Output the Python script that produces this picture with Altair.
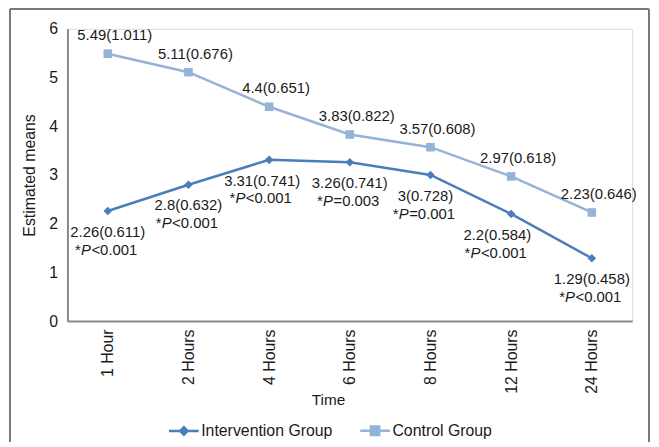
import altair as alt
import pandas as pd

# ---- data ----
times = ["1 Hour", "2 Hours", "4 Hours", "6 Hours", "8 Hours", "12 Hours", "24 Hours"]
intervention_mean = [2.26, 2.8, 3.31, 3.26, 3.0, 2.2, 1.29]
intervention_sd = [0.611, 0.632, 0.741, 0.741, 0.728, 0.584, 0.458]
control_mean = [5.49, 5.11, 4.4, 3.83, 3.57, 2.97, 2.23]
control_sd = [1.011, 0.676, 0.651, 0.822, 0.608, 0.618, 0.646]
p_sign = ["<", "<", "<", "=", "=", "<", "<"]
p_value = ["0.001", "0.001", "0.001", "0.003", "0.001", "0.001", "0.001"]
groups = ["Intervention Group", "Control Group"]
colors = ["#4a7ebb", "#95b3d7"]

FONT = "Liberation Sans"
TXT = "#1a1a1a"
AXC = "#898989"
LFS = 15  # data label font size


def fmt(v):
    return format(v, "g")


rows = []
for i, t in enumerate(times):
    rows.append(dict(time=t, group=groups[0], mean=intervention_mean[i],
                     label=f"{fmt(intervention_mean[i])}({fmt(intervention_sd[i])})",
                     prest=p_sign[i] + p_value[i]))
    rows.append(dict(time=t, group=groups[1], mean=control_mean[i],
                     label=f"{fmt(control_mean[i])}({fmt(control_sd[i])})",
                     prest=""))
df = pd.DataFrame(rows)

x = alt.X("time:N", sort=times, scale=alt.Scale(domain=times),
          axis=alt.Axis(title="Time", labelAngle=-90, labelFont=FONT, labelFontSize=16,
                        labelColor=TXT, labelPadding=8, ticks=False, domainColor=AXC,
                        domainWidth=2, titleFont=FONT, titleFontSize=15.5,
                        titleFontWeight="normal", titleColor=TXT, titleX=263, titleY=79,
                        titleBaseline="middle", titleAlign="center"))
y = alt.Y("mean:Q", scale=alt.Scale(domain=[0, 6], nice=False),
          axis=alt.Axis(title="Estimated means", values=[0, 1, 2, 3, 4, 5, 6], grid=False,
                        ticks=False, labelFont=FONT, labelFontSize=16, labelColor=TXT,
                        labelPadding=10, domainColor=AXC, domainWidth=2, titleFont=FONT,
                        titleFontSize=16, titleFontWeight="normal", titleColor=TXT,
                        titleX=-38, titleY=147.5, titleAngle=-90, titleAlign="center",
                        titleBaseline="middle"))

color_scale = alt.Scale(domain=groups, range=colors)
base = alt.Chart(df).encode(x=x, y=y)

border = alt.Chart(df).mark_rect(fill="transparent", stroke="#7a7a7a", strokeWidth=1).encode(
    x=alt.value(-58), x2=alt.value(587), y=alt.value(-20), y2=alt.value(440))

lines = base.mark_line(strokeWidth=2.5).encode(
    color=alt.Color("group:N", scale=color_scale, legend=None))

int_base = base.transform_filter(alt.datum.group == groups[0])
ctl_base = base.transform_filter(alt.datum.group == groups[1])

int_points = int_base.mark_point(filled=True, opacity=1, shape="diamond", size=75, color=colors[0])
ctl_points = ctl_base.mark_point(filled=True, opacity=1, shape="square", size=75, color=colors[1])

ctrl_text = ctl_base.mark_text(dx=7, dy=-18.5, fontSize=LFS, font=FONT, color=TXT, baseline="middle").encode(
    text="label:N")


def int_labels(src, dxc):
    """Two-line label below an intervention point, 'P' set in italics."""
    common = dict(fontSize=LFS, font=FONT, color=TXT, baseline="middle")
    return [
        src.mark_text(dx=dxc, dy=21, **common).encode(text="label:N"),
        src.mark_text(dx=dxc - 33, dy=39, align="left", text="*", **common),
        src.mark_text(dx=dxc - 27, dy=39, align="left", fontStyle="italic", text="P", **common),
        src.mark_text(dx=dxc - 16.5, dy=39, align="left", **common).encode(text="prest:N"),
    ]


# label placement (horizontal nudge) as in the reference
nudges = {"4 Hours": -7, "8 Hours": -5, "12 Hours": -14}
default_nudge = 0
int_layers = int_labels(
    int_base.transform_filter(~alt.FieldOneOfPredicate(field="time", oneOf=list(nudges))), default_nudge)
for t, n in nudges.items():
    int_layers += int_labels(int_base.transform_filter(alt.datum.time == t), n)

# legend symbols: a line segment with the marker drawn on it (marker filled by inner strokes)
path_int = "M-1,0H1M0,-0.25L0.25,0L0,0.25L-0.25,0ZM0,-0.18V0.18"
path_ctl = "M-1,0H1M-0.28,-0.28H0.28V0.28H-0.28ZM-0.28,-0.14H0.28M-0.28,0.14H0.28"
leg = dict(orient="none", legendX=101, legendY=389, direction="horizontal", title=None,
           labelFont=FONT, labelFontSize=16, labelColor=TXT, symbolSize=900,
           symbolStrokeWidth=2.5, labelOffset=1, columnPadding=22)
legend_layer = alt.Chart(df).mark_point(filled=False, opacity=1, strokeWidth=2.5).encode(
    x=alt.value(-2000), y=alt.value(-2000),
    color=alt.Color("group:N", scale=alt.Scale(domain=groups, range=colors), legend=alt.Legend(**leg)),
    shape=alt.Shape("group:N", scale=alt.Scale(domain=groups, range=[path_int, path_ctl]),
                    legend=alt.Legend(**leg)),
)

chart = alt.layer(border, lines, int_points, ctl_points, ctrl_text, *int_layers,
                  legend_layer).resolve_scale(
    color="independent", shape="independent"
).resolve_legend(
    color="independent", shape="independent"
).properties(
    width=570, height=295,
    autosize=alt.AutoSizeParams(type="none"),
    padding={"left": 60, "top": 19, "right": 19, "bottom": 120},
).configure_view(stroke=None).configure(background="white")

chart.save("out.html", embed_options={"renderer": "svg", "actions": False})
